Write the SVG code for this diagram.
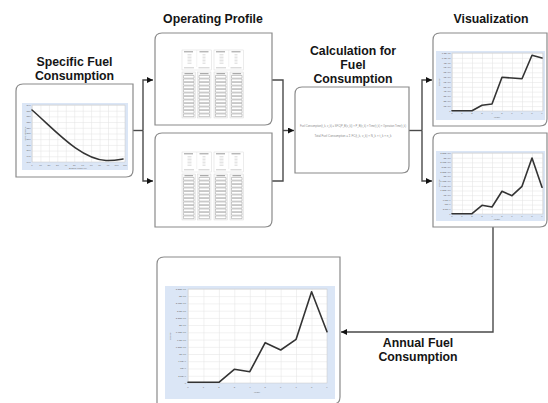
<svg xmlns="http://www.w3.org/2000/svg" xmlns:xlink="http://www.w3.org/1999/xlink" width="548" height="403" viewBox="0 0 548 403">
<style>
.box{fill:#fff;stroke:#8a8a8a;stroke-width:1.2}
.title{font-family:"Liberation Sans",Arial,sans-serif;font-weight:bold;font-size:12.3px;fill:#151515;text-anchor:middle}
.bg{fill:#dbe6f6}
.plotfr{stroke:#c8c8c8;stroke-width:0.5}
.series{fill:none;stroke:#333;stroke-width:1.6;stroke-linejoin:round;stroke-linecap:round}
.tk{font-family:"Liberation Sans",Arial,sans-serif;font-size:2.4px;fill:#6a6a6a}
.tky{text-anchor:end}
.tkx{text-anchor:middle}
.conn{fill:none;stroke:#4a4a4a;stroke-width:1.4}
.formula{font-family:"Liberation Sans",Arial,sans-serif;fill:#8a8a8a;text-anchor:middle}
.tcell{fill:#fff;stroke:#cfcfcf;stroke-width:0.4}
.thead{stroke:#808080;stroke-width:0.8;fill:none}
.trow{stroke:#c9c9c9;stroke-width:0.5;fill:none}
.cells{fill:#fff;stroke:#9a9a9a;stroke-width:0.5}
</style>
<defs>
<marker id="arr" markerUnits="userSpaceOnUse" markerWidth="7" markerHeight="7" refX="6" refY="3" orient="auto">
<path d="M0,0 L6,3 L0,6 Z" fill="#111"/>
</marker>
<pattern id="gS" patternUnits="userSpaceOnUse" x="32" y="105" width="8.45" height="5.7"><path d="M0,0V5.7M0,0H8.45" stroke="#e2e2e2" stroke-width="1" fill="none"/></pattern>
<pattern id="gV1" patternUnits="userSpaceOnUse" x="452" y="53" width="10" height="4.83"><path d="M0,0V4.83M0,0H10" stroke="#e2e2e2" stroke-width="1" fill="none"/></pattern>
<pattern id="gV2" patternUnits="userSpaceOnUse" x="452" y="153" width="10" height="4.69"><path d="M0,0V4.69M0,0H10" stroke="#e2e2e2" stroke-width="1" fill="none"/></pattern>
<pattern id="gA" patternUnits="userSpaceOnUse" x="188" y="289" width="15.44" height="7.23"><path d="M0,0V7.23M0,0H15.44" stroke="#e2e2e2" stroke-width="1" fill="none"/></pattern>
<g id="tcol">
<rect x="0" y="0" width="13.5" height="46" fill="#f7f7f7" stroke="#cfcfcf" stroke-width="0.4"/>
<path class="thead" d="M2.5,1.7h8.5"/>
<path class="cells" d="M1.5,3.5h10.5v2.6h-10.5z M1.5,7h10.5v2.6h-10.5z M1.5,10.5h10.5v2.6h-10.5z M1.5,14h10.5v2.6h-10.5z M1.5,17.5h10.5v2.6h-10.5z M1.5,21h10.5v2.6h-10.5z M1.5,24.5h10.5v2.6h-10.5z M1.5,28h10.5v2.6h-10.5z M1.5,31.5h10.5v2.6h-10.5z M1.5,35h10.5v2.6h-10.5z M1.5,38.5h10.5v2.6h-10.5z M1.5,42h10.5v2.6h-10.5z"/>
</g>
<g id="tbl">
<rect class="tcell" x="0" y="0" width="29.5" height="20"/>
<rect class="tcell" x="32" y="0" width="29.5" height="20"/>
<path d="M14.75,0V17 M46.75,0V17" stroke="#e0e0e0" stroke-width="0.4"/>
<path class="thead" d="M2,1.8h9 M17.5,1.8h9 M34,1.8h9 M49.5,1.8h9"/>
<path class="trow" d="M5.5,4.5h4 M5.5,6h4 M5.5,7.5h4 M5.5,9h4 M5.5,10.5h4 M5.5,12h4 M5.5,13.5h4 M20.5,4.5h3 M20.5,6h3 M20.5,7.5h3 M20.5,9h3 M20.5,10.5h3 M20.5,12h3 M20.5,13.5h3 M37.5,4.5h4 M37.5,6h4 M37.5,7.5h4 M37.5,9h4 M37.5,10.5h4 M37.5,12h4 M37.5,13.5h4 M52.5,4.5h3 M52.5,6h3 M52.5,7.5h3 M52.5,9h3 M52.5,10.5h3 M52.5,12h3 M52.5,13.5h3"/>
<path d="M2,17.8h10 M16.5,17.8h11 M34,17.8h10 M48.5,17.8h11" stroke="#a8a8a8" stroke-width="0.6"/>
<use xlink:href="#tcol" href="#tcol" x="0" y="22"/>
<use xlink:href="#tcol" href="#tcol" x="15.5" y="22"/>
<use xlink:href="#tcol" href="#tcol" x="32" y="22"/>
<use xlink:href="#tcol" href="#tcol" x="48" y="22"/>
</g>
</defs>

<rect x="0" y="0" width="548" height="403" fill="#fff"/>

<g id="connectors">
<path class="conn" d="M133,130.5 H143"/>
<path class="conn" d="M143,130.5 V80 H153" marker-end="url(#arr)"/>
<path class="conn" d="M143,130.5 V181 H153" marker-end="url(#arr)"/>
<path class="conn" d="M272,80 H283 V181 H272"/>
<path class="conn" d="M283,130.5 H294" marker-end="url(#arr)"/>
<path class="conn" d="M409,130.5 H422"/>
<path class="conn" d="M422,130.5 V80 H432" marker-end="url(#arr)"/>
<path class="conn" d="M422,130.5 V181 H432" marker-end="url(#arr)"/>
<path class="conn" d="M493,227 V332 H341" marker-end="url(#arr)"/>
</g>

<g id="sfc">
<text class="title" x="74.5" y="66">Specific Fuel</text>
<text class="title" x="74.5" y="80">Consumption</text>
<path class="box" d="M16,91 Q16,84 23,84 H133 V170 Q133,177 126,177 H16 Z"/>
<rect class="bg" x="22" y="103" width="106" height="67"/>
<rect x="32" y="105" width="93" height="57" fill="#fff"/>
<rect x="32" y="105" width="93" height="57" fill="url(#gS)" class="plotfr"/>
<path class="series" d="M32,110 C55,130 80,159 106,160.5 C114,160.8 120,159.5 123,159"/>
<text class="tk tky"><tspan x="30.5" y="105.8">240</tspan><tspan x="30.5" y="111.5">235</tspan><tspan x="30.5" y="117.2">230</tspan><tspan x="30.5" y="122.9">225</tspan><tspan x="30.5" y="128.6">220</tspan><tspan x="30.5" y="134.3">215</tspan><tspan x="30.5" y="140">210</tspan><tspan x="30.5" y="145.7">205</tspan><tspan x="30.5" y="151.4">200</tspan><tspan x="30.5" y="157.1">195</tspan><tspan x="30.5" y="162.8">190</tspan></text>
<text class="tk tkx"><tspan x="32" y="165.5">0</tspan><tspan x="40.5" y="165.5">10</tspan><tspan x="48.9" y="165.5">20</tspan><tspan x="57.4" y="165.5">30</tspan><tspan x="65.8" y="165.5">40</tspan><tspan x="74.3" y="165.5">50</tspan><tspan x="82.7" y="165.5">60</tspan><tspan x="91.2" y="165.5">70</tspan><tspan x="99.6" y="165.5">80</tspan><tspan x="108.1" y="165.5">90</tspan><tspan x="116.5" y="165.5">100</tspan><tspan x="125" y="165.5">110</tspan></text>
<text class="tk tkx" x="78" y="168.6">Engine Load (%)</text>
<text class="tk tkx" transform="translate(25.5,133.5) rotate(-90)">SFC (g/kWh)</text>
</g>

<g id="op-profile-1">
<text class="title" x="213" y="23">Operating Profile</text>
<path class="box" d="M155,40 Q155,33 162,33 H272 V118 Q272,125 265,125 H155 Z"/>
<use xlink:href="#tbl" href="#tbl" x="182" y="50"/>
</g>

<g id="op-profile-2">
<path class="box" d="M155,140 Q155,133 162,133 H272 V220 Q272,227 265,227 H155 Z"/>
<use xlink:href="#tbl" href="#tbl" x="182" y="152"/>
</g>

<g id="calculation">
<text class="title" x="353" y="55">Calculation for</text>
<text class="title" x="353" y="69">Fuel</text>
<text class="title" x="353" y="83">Consumption</text>
<path class="box" d="M295,94 Q295,87 302,87 H409 V166 Q409,173 402,173 H295 Z"/>
<text class="formula" x="353" y="126.5" font-size="2.9" textLength="106" lengthAdjust="spacingAndGlyphs">Fuel Consumption(t_k, v_k) = SFC(P_B(v_k)) × P_B(v_k) × Time(t_k) × Operation Time(t_k)</text>
<text class="formula" x="353" y="137" font-size="3.4" textLength="77" lengthAdjust="spacingAndGlyphs">Total Fuel Consumption = Σ FC(t_k, v_k) × N_k × t_k × n_k</text>
</g>

<g id="visualization-1">
<text class="title" x="491" y="23">Visualization</text>
<path class="box" d="M433,40 Q433,33 440,33 H547 V119 Q547,126 540,126 H433 Z"/>
<rect class="bg" x="436" y="51" width="109" height="69"/>
<rect x="452" y="53" width="91" height="58" fill="#fff"/>
<rect x="452" y="53" width="91" height="58" fill="url(#gV1)" class="plotfr"/>
<path class="series" d="M452,110.7 L462,110.7 L472,110.7 L482,105.3 L492,104 L502,77.3 L512,78 L522,78.7 L532,55.3 L542,58"/>
<text class="tk tky"><tspan x="450.5" y="53.8">1.2E+11</tspan><tspan x="450.5" y="58.6">1.1E+11</tspan><tspan x="450.5" y="63.5">1E+11</tspan><tspan x="450.5" y="68.3">9E+10</tspan><tspan x="450.5" y="73.1">8E+10</tspan><tspan x="450.5" y="78">7E+10</tspan><tspan x="450.5" y="82.8">6E+10</tspan><tspan x="450.5" y="87.6">5E+10</tspan><tspan x="450.5" y="92.4">4E+10</tspan><tspan x="450.5" y="97.3">3E+10</tspan><tspan x="450.5" y="102.1">2E+10</tspan><tspan x="450.5" y="106.9">1E+10</tspan><tspan x="450.5" y="111.8">0</tspan></text>
<text class="tk tkx"><tspan x="452" y="114.3">0</tspan><tspan x="462" y="114.3">1</tspan><tspan x="472" y="114.3">2</tspan><tspan x="482" y="114.3">3</tspan><tspan x="492" y="114.3">4</tspan><tspan x="502" y="114.3">5</tspan><tspan x="512" y="114.3">6</tspan><tspan x="522" y="114.3">7</tspan><tspan x="532" y="114.3">8</tspan><tspan x="542" y="114.3">9</tspan></text>
<text class="tk tkx" x="497" y="117.6">Yearly</text>
<text class="tk tkx" transform="translate(440,82) rotate(-90)">Energy</text>
</g>

<g id="visualization-2">
<path class="box" d="M433,140 Q433,133 440,133 H547 V220 Q547,227 540,227 H433 Z"/>
<rect class="bg" x="436" y="151" width="109" height="70"/>
<rect x="452" y="153" width="91" height="61" fill="#fff"/>
<rect x="452" y="153" width="91" height="61" fill="url(#gV2)" class="plotfr"/>
<path class="series" d="M452,213.7 L462,213.7 L472,213.7 L482,205.3 L492,207 L502,191.3 L512,195.7 L522,186.3 L532,158 L542,187.3"/>
<text class="tk tky"><tspan x="450.5" y="153.8">3.25E+10</tspan><tspan x="450.5" y="158.5">3E+10</tspan><tspan x="450.5" y="163.2">2.75E+10</tspan><tspan x="450.5" y="167.9">2.5E+10</tspan><tspan x="450.5" y="172.6">2.25E+10</tspan><tspan x="450.5" y="177.3">2E+10</tspan><tspan x="450.5" y="181.9">1.75E+10</tspan><tspan x="450.5" y="186.6">1.5E+10</tspan><tspan x="450.5" y="191.3">1.25E+10</tspan><tspan x="450.5" y="196">1E+10</tspan><tspan x="450.5" y="200.7">7.5E+9</tspan><tspan x="450.5" y="205.4">5E+9</tspan><tspan x="450.5" y="210.1">2.5E+9</tspan><tspan x="450.5" y="214.8">0</tspan></text>
<text class="tk tkx"><tspan x="452" y="217.3">0</tspan><tspan x="462" y="217.3">1</tspan><tspan x="472" y="217.3">2</tspan><tspan x="482" y="217.3">3</tspan><tspan x="492" y="217.3">4</tspan><tspan x="502" y="217.3">5</tspan><tspan x="512" y="217.3">6</tspan><tspan x="522" y="217.3">7</tspan><tspan x="532" y="217.3">8</tspan><tspan x="542" y="217.3">9</tspan></text>
<text class="tk tkx" x="497" y="220.4">Yearly</text>
<text class="tk tkx" transform="translate(440,183) rotate(-90)">Energy</text>
</g>

<g id="annual">
<path class="box" d="M157,264 Q157,257 164,257 H340 V397 Q340,404 333,404 H157 Z"/>
<rect class="bg" x="165" y="286" width="170" height="113"/>
<rect x="188" y="289" width="139" height="94" fill="#fff"/>
<rect x="188" y="289" width="139" height="94" fill="url(#gA)" class="plotfr"/>
<path class="series" d="M188,382.3 L203.4,382.3 L218.9,382.3 L234.3,369.3 L249.8,371.7 L265.2,342.7 L280.7,350 L296.1,339.3 L311.6,291.7 L327,331.7"/>
<text class="tk tky"><tspan x="186" y="289.9">3.25E+10</tspan><tspan x="186" y="297.1">3E+10</tspan><tspan x="186" y="304.4">2.75E+10</tspan><tspan x="186" y="311.6">2.5E+10</tspan><tspan x="186" y="318.8">2.25E+10</tspan><tspan x="186" y="326.1">2E+10</tspan><tspan x="186" y="333.3">1.75E+10</tspan><tspan x="186" y="340.5">1.5E+10</tspan><tspan x="186" y="347.7">1.25E+10</tspan><tspan x="186" y="355">1E+10</tspan><tspan x="186" y="362.2">7.5E+9</tspan><tspan x="186" y="369.4">5E+9</tspan><tspan x="186" y="376.7">2.5E+9</tspan><tspan x="186" y="383.9">0</tspan></text>
<text class="tk tkx"><tspan x="188" y="387.8">0</tspan><tspan x="203.4" y="387.8">1</tspan><tspan x="218.9" y="387.8">2</tspan><tspan x="234.3" y="387.8">3</tspan><tspan x="249.8" y="387.8">4</tspan><tspan x="265.2" y="387.8">5</tspan><tspan x="280.7" y="387.8">6</tspan><tspan x="296.1" y="387.8">7</tspan><tspan x="311.6" y="387.8">8</tspan><tspan x="327" y="387.8">9</tspan></text>
<text class="tk tkx" x="257" y="392.5">Yearly</text>
<text class="tk tkx" transform="translate(170.5,336) rotate(-90)">Energy</text>
<text class="title" x="418" y="347">Annual Fuel</text>
<text class="title" x="418" y="361">Consumption</text>
</g>
</svg>
